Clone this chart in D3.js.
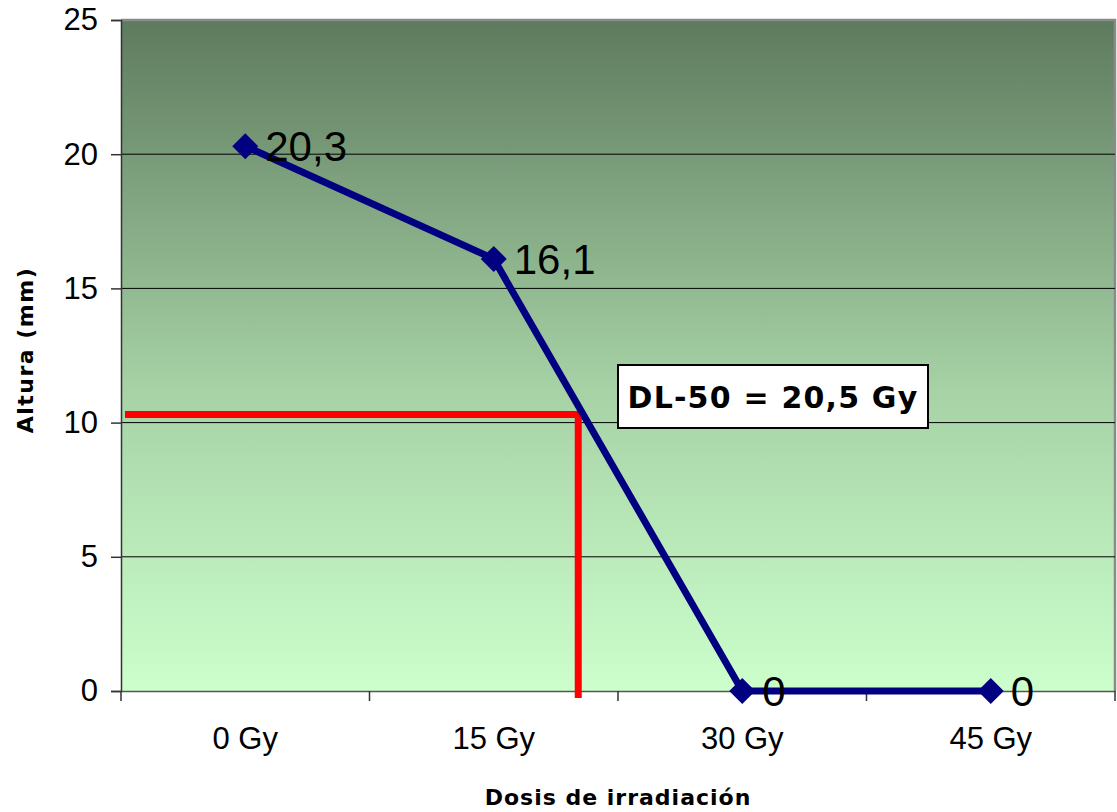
<!DOCTYPE html>
<html>
<head>
<meta charset="utf-8">
<script src="https://cdn.jsdelivr.net/npm/d3@7"></script>
<style>
  body { margin: 0; background: #fff; }
  svg { display: block; }
  .tick text { font-family: Arial, "Liberation Sans", sans-serif; }
</style>
</head>
<body>
<script>
const doses = ['0 Gy', '15 Gy', '30 Gy', '45 Gy'];
const doseValues = [0, 15, 30, 45];
const heights = [20.3, 16.1, 0, 0];
const labels = ['20,3', '16,1', '0', '0'];
const yTicks = [0, 5, 10, 15, 20, 25];
const dl50 = { dose: 20.1, height: 10.3, text: 'DL-50 = 20,5 Gy' };

const width = 1117, height = 812;
const plotLeft = 121, plotRight = 1115, plotTop = 20, plotBottom = 691;
const handFont = '"Comic Sans MS", "DejaVu Sans", sans-serif';

const svg = d3.select('body')
  .append('svg')
  .attr('width', width)
  .attr('height', height);

const grad = svg.append('defs')
  .append('linearGradient')
  .attr('id', 'bg')
  .attr('x1', 0).attr('y1', 0).attr('x2', 0).attr('y2', 1);
grad.append('stop').attr('offset', '0%').attr('stop-color', '#5e7a5e');
grad.append('stop').attr('offset', '55%').attr('stop-color', '#a6d2a6');
grad.append('stop').attr('offset', '100%').attr('stop-color', '#ccffcc');

const x = d3.scaleBand().domain(doses).range([plotLeft, plotRight]);
const xc = (d) => x(d) + x.bandwidth() / 2;
const doseScale = d3.scaleLinear()
  .domain([doseValues[0], doseValues[3]])
  .range([xc(doses[0]), xc(doses[3])]);
const y = d3.scaleLinear().domain([0, 25]).range([plotBottom, plotTop]);

// plot area
svg.append('rect')
  .attr('x', plotLeft).attr('y', plotTop)
  .attr('width', plotRight - plotLeft).attr('height', plotBottom - plotTop)
  .attr('fill', 'url(#bg)');

// gray frame top and right
svg.append('path')
  .attr('d', `M${plotLeft},${plotTop}H${plotRight}V${plotBottom}`)
  .attr('fill', 'none')
  .attr('stroke', '#8a8a8a')
  .attr('stroke-width', 2.5);

// gridlines
svg.append('g')
  .selectAll('line')
  .data(yTicks.filter((t) => t > 0 && t < 25))
  .enter()
  .append('line')
  .attr('x1', plotLeft).attr('x2', plotRight)
  .attr('y1', (d) => y(d)).attr('y2', (d) => y(d))
  .attr('stroke', '#000')
  .attr('stroke-width', 1);

const yAxis = d3.axisLeft(y)
  .tickValues(yTicks)
  .tickSize(10)
  .tickPadding(13)
  .tickFormat(d3.format('d'));

svg.append('g')
  .attr('transform', `translate(${plotLeft},0)`)
  .call(yAxis)
  .call((g) => g.select('.domain').attr('stroke', '#333').attr('stroke-width', 1.5))
  .call((g) => g.selectAll('.tick line').attr('stroke', '#333').attr('stroke-width', 1.5))
  .call((g) => g.selectAll('.tick text').attr('font-size', 31).attr('fill', '#000'));

const xAxis = d3.axisBottom(x)
  .tickSize(0)
  .tickPadding(36);

svg.append('g')
  .attr('transform', `translate(0,${plotBottom})`)
  .call(xAxis)
  .call((g) => g.select('.domain').attr('stroke', '#555').attr('stroke-width', 1.5))
  .call((g) => g.selectAll('.tick text').attr('font-size', 31).attr('fill', '#000'));

// x tick marks at band boundaries
svg.append('g')
  .selectAll('line')
  .data(doses.concat(['end']))
  .enter()
  .append('line')
  .attr('x1', (d, i) => i < doses.length ? x(d) : plotRight)
  .attr('x2', (d, i) => i < doses.length ? x(d) : plotRight)
  .attr('y1', plotBottom).attr('y2', plotBottom + 10)
  .attr('stroke', '#333')
  .attr('stroke-width', 1.5);

// red DL-50 guide
svg.append('path')
  .attr('d', `M${plotLeft + 4},${y(dl50.height)}H${doseScale(dl50.dose)}V${plotBottom + 7}`)
  .attr('fill', 'none')
  .attr('stroke', '#ff0000')
  .attr('stroke-width', 7);

// series line
const pts = doses.map((d, i) => ({ cat: d, v: heights[i], label: labels[i] }));

svg.append('path')
  .datum(pts)
  .attr('d', d3.line().x((d) => xc(d.cat)).y((d) => y(d.v)))
  .attr('fill', 'none')
  .attr('stroke', '#000080')
  .attr('stroke-width', 7)
  .attr('stroke-linejoin', 'round');

svg.append('g')
  .selectAll('path')
  .data(pts)
  .enter()
  .append('path')
  .attr('d', 'M0,-13L13,0L0,13L-13,0Z')
  .attr('transform', (d) => `translate(${xc(d.cat)},${y(d.v)})`)
  .attr('fill', '#000080');

svg.append('g')
  .selectAll('text')
  .data(pts)
  .enter()
  .append('text')
  .attr('x', (d) => xc(d.cat) + 20)
  .attr('y', (d) => y(d.v) + 15)
  .attr('font-family', 'Arial, "Liberation Sans", sans-serif')
  .attr('font-size', 42)
  .attr('fill', '#000')
  .text((d) => d.label);

// annotation box
const box = svg.append('g');
box.append('rect')
  .attr('x', 618).attr('y', 365)
  .attr('width', 310).attr('height', 63)
  .attr('fill', '#fff')
  .attr('stroke', '#000')
  .attr('stroke-width', 2);
box.append('text')
  .attr('x', 773).attr('y', 408)
  .attr('text-anchor', 'middle')
  .attr('font-family', handFont)
  .attr('font-weight', 'bold')
  .attr('font-size', 30)
  .attr('letter-spacing', 1.2)
  .text(dl50.text);

// axis titles
svg.append('text')
  .attr('x', 618).attr('y', 805)
  .attr('text-anchor', 'middle')
  .attr('font-family', handFont)
  .attr('font-weight', 'bold')
  .attr('font-size', 22)
  .attr('letter-spacing', 1)
  .text('Dosis de irradiación');

svg.append('text')
  .attr('transform', 'translate(33,350) rotate(-90)')
  .attr('text-anchor', 'middle')
  .attr('font-family', handFont)
  .attr('font-weight', 'bold')
  .attr('font-size', 22)
  .attr('letter-spacing', 1.5)
  .text('Altura (mm)');
</script>
</body>
</html>
